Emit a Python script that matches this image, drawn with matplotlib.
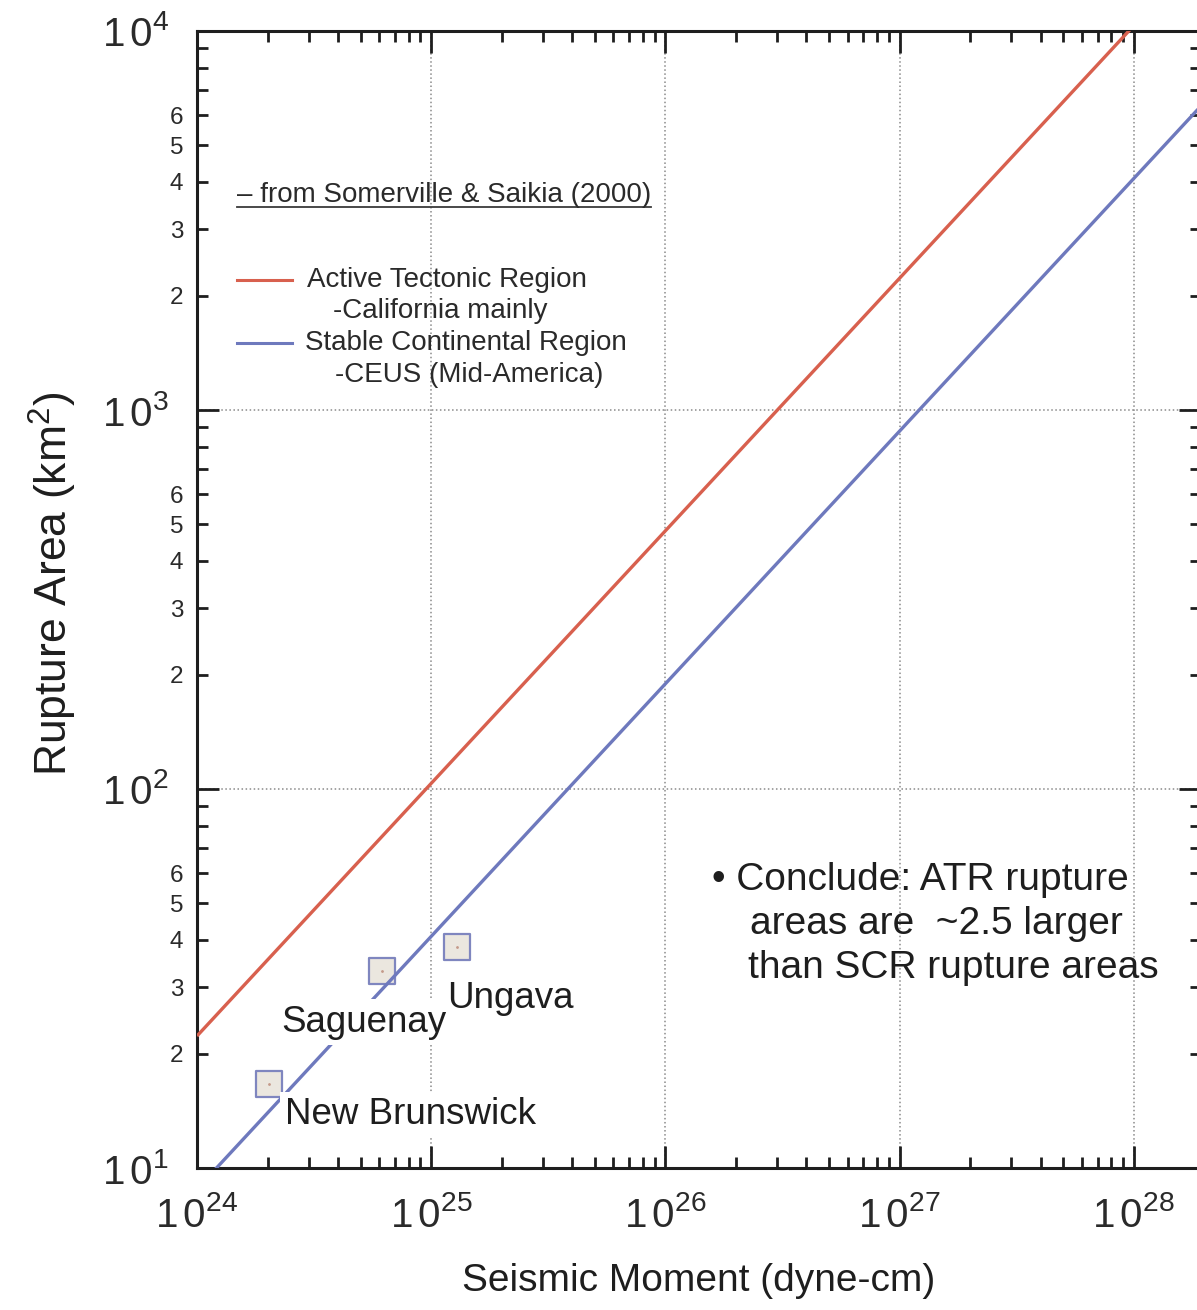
import matplotlib
matplotlib.use("Agg")
import matplotlib.pyplot as plt
from matplotlib.lines import Line2D
from matplotlib.ticker import LogLocator, FuncFormatter, NullFormatter
import numpy as np

plt.rcParams['font.family'] = ['Liberation Sans', 'DejaVu Sans']
plt.rcParams['mathtext.fontset'] = 'custom'
plt.rcParams['mathtext.rm'] = 'Liberation Sans'
plt.rcParams['mathtext.it'] = 'Liberation Sans:italic'
plt.rcParams['mathtext.bf'] = 'Liberation Sans:bold'

# Scaling relations (Somerville & Saikia, 2000): rupture area vs seismic moment
moment_ends = [1e24, 2e28]          # dyne-cm
atr_area = [22.3, 16400]            # km^2, Active Tectonic Region
scr_area = [8.8, 6480]              # km^2, Stable Continental Region

# Eastern Canada earthquakes
eq_names = ["New Brunswick", "Saguenay", "Ungava"]
eq_moment = [2.02e24, 6.15e24, 1.285e25]
eq_area = [16.7, 33.0, 38.2]
eq_label_offsets = [(12, -10), (-72, -24), (-7, -24)]
eq_label_masks = [True, True, False]

RED = "#d8604e"
BLUE = "#6e79bd"
INK = "#1e1e1e"

fig = plt.figure(figsize=(11.97, 13.10), dpi=100)
W, H = 1197, 1310
x0, x1, y0, y1 = 197, 1201, 31, 1168
ax = fig.add_axes([x0 / W, (H - y1) / H, (x1 - x0) / W, (y1 - y0) / H])
ax.set_xscale('log')
ax.set_yscale('log')
ax.set_xlim(1e24, 10 ** (24 + (x1 - x0) / 234.2))
ax.set_ylim(10, 1e4)

ax.plot(moment_ends, atr_area, color=RED, lw=2.4, zorder=3, solid_capstyle='butt')
ax.plot(moment_ends, scr_area, color=BLUE, lw=2.4, zorder=3, solid_capstyle='butt')

ax.scatter(eq_moment, eq_area, marker='s', s=330, facecolor='#ebe7df',
           edgecolor='#7f86bf', linewidth=1.6, zorder=2)
ax.scatter(eq_moment, eq_area, marker='.', s=4, color='#c49a8a', zorder=2.5)

for name, mx, ar, off, mask in zip(eq_names, eq_moment, eq_area,
                                   eq_label_offsets, eq_label_masks):
    box = dict(boxstyle='square,pad=0.15', fc='white', ec='none') if mask else None
    ax.annotate(name, (mx, ar), xytext=off, textcoords='offset points',
                fontsize=26.5, color=INK, ha='left', va='top', zorder=5, bbox=box)

# Axes styling
for sp in ax.spines.values():
    sp.set_linewidth(2.2)
    sp.set_color(INK)
ax.xaxis.set_major_locator(LogLocator(base=10, numticks=10))
ax.xaxis.set_minor_locator(LogLocator(base=10, subs=np.arange(2, 10), numticks=10))
ax.yaxis.set_major_locator(LogLocator(base=10, numticks=10))
ax.yaxis.set_minor_locator(LogLocator(base=10, subs=np.arange(2, 10), numticks=10))
ax.xaxis.set_minor_formatter(NullFormatter())


def major_log(v, pos):
    e = int(round(np.log10(v)))
    return r'$\mathdefault{1\,0^{%d}}$' % e


def minor_y(v, pos):
    m = v / 10 ** np.floor(np.log10(v) + 1e-9)
    m = int(round(m))
    return str(m) if 2 <= m <= 6 else ''


ax.xaxis.set_major_formatter(FuncFormatter(major_log))
ax.yaxis.set_major_formatter(FuncFormatter(major_log))
ax.yaxis.set_minor_formatter(FuncFormatter(minor_y))
ax.tick_params(which='both', direction='in', top=True, right=True,
               width=2.0, color=INK, labelcolor='#2a2a2a')
ax.tick_params(which='major', length=16, labelsize=29)
ax.tick_params(which='minor', length=8, labelsize=17.5)
ax.tick_params(axis='x', which='major', pad=20)
ax.tick_params(axis='y', which='major', pad=20)
ax.tick_params(axis='y', which='minor', pad=10)

ax.grid(which='major', linestyle=':', color='#8a8a8a', lw=1.1, zorder=0)

ax.set_xlabel('Seismic Moment (dyne-cm)', fontsize=28, color=INK, labelpad=20)
ax.set_ylabel(r'Rupture Area (km$^2$)', fontsize=32, color=INK)
ax.yaxis.set_label_coords(-0.118, 0.514)


def afx(px):
    return (px - x0) / (x1 - x0)


def afy(py):
    return (y1 - py) / (y1 - y0)


# Key block
KEY_FS = 20
hdr = ax.text(afx(237), afy(195), '– from Somerville & Saikia (2000)', transform=ax.transAxes,
              fontsize=KEY_FS, color='#2a2a2a', ha='left', va='center')
ax.add_line(Line2D([afx(237), afx(292)], [afy(280), afy(280)], transform=ax.transAxes,
                   color=RED, lw=2.2))
ax.text(afx(307), afy(280), 'Active Tectonic Region', transform=ax.transAxes,
        fontsize=KEY_FS, color='#2a2a2a', ha='left', va='center')
ax.text(afx(333), afy(311), '-California mainly', transform=ax.transAxes,
        fontsize=KEY_FS, color='#2a2a2a', ha='left', va='center')
ax.add_line(Line2D([afx(237), afx(292)], [afy(343), afy(343)], transform=ax.transAxes,
                   color=BLUE, lw=2.2))
ax.text(afx(305), afy(343), 'Stable Continental Region', transform=ax.transAxes,
        fontsize=KEY_FS, color='#2a2a2a', ha='left', va='center')
ax.text(afx(335), afy(375), '-CEUS (Mid-America)', transform=ax.transAxes,
        fontsize=KEY_FS, color='#2a2a2a', ha='left', va='center')

# Conclusion note
NOTE_FS = 28
ax.text(afx(712), afy(880), '• Conclude: ATR rupture', transform=ax.transAxes,
        fontsize=NOTE_FS, color=INK, ha='left', va='center')
ax.text(afx(750), afy(924), 'areas are  ~2.5 larger', transform=ax.transAxes,
        fontsize=NOTE_FS, color=INK, ha='left', va='center')
ax.text(afx(748), afy(968), 'than SCR rupture areas', transform=ax.transAxes,
        fontsize=NOTE_FS, color=INK, ha='left', va='center')

# Underline the reference header
fig.canvas.draw()
bb = hdr.get_window_extent(renderer=fig.canvas.get_renderer())
inv = ax.transAxes.inverted()
(ux0, uy0), (ux1, uy1) = inv.transform([(bb.x0, bb.y0), (bb.x1, bb.y0)])
ax.add_line(Line2D([ux0, ux1], [uy0 + 0.001, uy1 + 0.001], transform=ax.transAxes,
                   color='#3a3a3a', lw=1.3))

fig.savefig('out.png', dpi=100)
